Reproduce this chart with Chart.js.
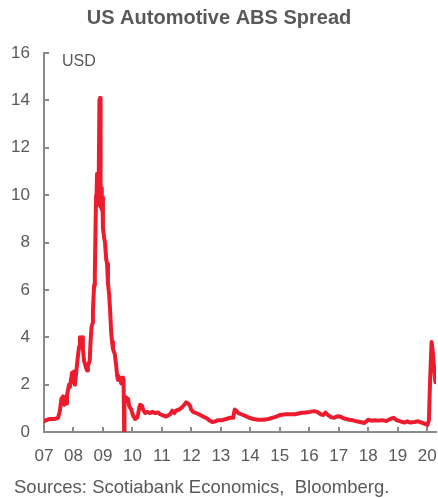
<!DOCTYPE html>
<html>
<head>
<meta charset="utf-8">
<script src="https://cdn.jsdelivr.net/npm/chart.js"></script>
<style>
  body { margin: 0; background: #fff; }
  #wrap { position: relative; width: 438px; height: 498px; }
</style>
</head>
<body>
<div id="wrap"><canvas id="abs"></canvas></div>
<script>
// decimal year of each observation
const dates = [
  2007.00, 2007.07, 2007.20, 2007.37, 2007.48, 2007.54, 2007.59, 2007.65, 2007.68, 2007.75,
  2007.78, 2007.85, 2007.88, 2007.95, 2007.99, 2008.02, 2008.05, 2008.10, 2008.15, 2008.19,
  2008.22, 2008.26, 2008.29, 2008.32, 2008.36, 2008.43, 2008.46, 2008.49, 2008.55, 2008.58,
  2008.61, 2008.65, 2008.66, 2008.70, 2008.72, 2008.73, 2008.76, 2008.77, 2008.78, 2008.80,
  2008.82, 2008.83, 2008.85, 2008.88, 2008.90, 2008.92, 2008.94, 2008.96, 2008.98, 2009.00,
  2009.04, 2009.07, 2009.11, 2009.14, 2009.17, 2009.21, 2009.24, 2009.28, 2009.31, 2009.34,
  2009.40, 2009.45, 2009.48, 2009.51, 2009.58, 2009.62, 2009.65, 2009.68, 2009.70, 2009.72,
  2009.73, 2009.79, 2009.82, 2009.85, 2009.89, 2009.96, 2010.02, 2010.09, 2010.16, 2010.19,
  2010.23, 2010.26, 2010.33, 2010.36, 2010.43, 2010.50, 2010.60, 2010.67, 2010.77, 2010.87,
  2010.94, 2011.04, 2011.14, 2011.21, 2011.28, 2011.35, 2011.42, 2011.48, 2011.59, 2011.69,
  2011.76, 2011.82, 2011.89, 2011.96, 2011.99, 2012.06, 2012.16, 2012.30, 2012.40, 2012.50,
  2012.60, 2012.71, 2012.81, 2012.91, 2013.05, 2013.18, 2013.32, 2013.42, 2013.47, 2013.52,
  2013.59, 2013.69, 2013.83, 2013.96, 2014.10, 2014.27, 2014.44, 2014.61, 2014.74, 2014.88,
  2015.02, 2015.19, 2015.36, 2015.53, 2015.70, 2015.87, 2016.04, 2016.17, 2016.27, 2016.38,
  2016.48, 2016.55, 2016.65, 2016.75, 2016.85, 2016.95, 2017.05, 2017.16, 2017.26, 2017.36,
  2017.46, 2017.60, 2017.73, 2017.87, 2018.01, 2018.11, 2018.21, 2018.35, 2018.48, 2018.62,
  2018.75, 2018.86, 2018.96, 2019.09, 2019.23, 2019.33, 2019.43, 2019.57, 2019.70, 2019.81,
  2019.91, 2020.01, 2020.06, 2020.09, 2020.13, 2020.15, 2020.18, 2020.21, 2020.25, 2020.28
];
// spread, USD
const spread = [
  0.45, 0.50, 0.55, 0.55, 0.60, 0.90, 1.40, 1.50, 1.15, 1.20,
  1.55, 2.00, 1.90, 2.50, 2.10, 2.55, 2.00, 2.60, 3.20, 3.60,
  4.00, 3.80, 4.00, 3.50, 3.00, 2.70, 2.60, 2.80, 3.00, 3.80,
  4.40, 4.60, 5.10, 6.20, 6.50, 6.70, 9.50, 10.00, 9.80, 10.90,
  10.20, 10.70, 9.60, 14.00, 14.10, 9.50, 10.30, 9.40, 9.90, 8.60,
  8.20, 8.00, 7.30, 7.10, 6.30, 5.80, 5.20, 4.20, 3.80, 3.50,
  3.30, 2.80, 2.40, 2.20, 2.30, 2.05, 2.20, 2.30, 2.20, 0.00,
  1.50, 1.45, 1.30, 1.40, 1.10, 0.95, 0.70, 0.55, 0.60, 0.75,
  1.00, 1.15, 1.10, 0.95, 0.80, 0.85, 0.80, 0.85, 0.80, 0.82,
  0.75, 0.70, 0.65, 0.70, 0.75, 0.90, 0.80, 0.90, 0.95, 1.05,
  1.15, 1.25, 1.20, 1.10, 0.95, 0.85, 0.80, 0.72, 0.65, 0.60,
  0.50, 0.42, 0.45, 0.50, 0.50, 0.55, 0.60, 0.60, 0.95, 0.90,
  0.80, 0.75, 0.68, 0.60, 0.55, 0.52, 0.52, 0.55, 0.60, 0.65,
  0.72, 0.75, 0.75, 0.75, 0.80, 0.82, 0.85, 0.88, 0.85, 0.75,
  0.72, 0.82, 0.70, 0.62, 0.60, 0.66, 0.65, 0.58, 0.55, 0.52,
  0.50, 0.45, 0.42, 0.38, 0.52, 0.48, 0.50, 0.48, 0.50, 0.46,
  0.55, 0.60, 0.50, 0.45, 0.40, 0.45, 0.40, 0.42, 0.45, 0.40,
  0.35, 0.30, 0.50, 1.80, 3.20, 3.80, 3.50, 3.10, 2.50, 2.10
];
const years = [2007, 2008, 2009, 2010, 2011, 2012, 2013, 2014, 2015, 2016, 2017, 2018, 2019, 2020];

const grey = '#595959';
const axisGrey = '#8a8a8a';
const fam = '"Liberation Sans", Arial, sans-serif';

// titles, unit label and the short inward tick marks
const decor = {
  id: 'decor',
  afterDraw(chart) {
    const c = chart.ctx, a = chart.chartArea;
    const sx = chart.scales.x, sy = chart.scales.y;
    c.save();
    c.strokeStyle = axisGrey;
    c.lineWidth = 2;
    c.beginPath();
    sx.ticks.forEach(t => {
      const px = Math.round(sx.getPixelForValue(t.value));
      c.moveTo(px, a.bottom); c.lineTo(px, a.bottom - 5);
    });
    sy.ticks.forEach(t => {
      const py = Math.round(sy.getPixelForValue(t.value));
      c.moveTo(a.left, py); c.lineTo(a.left + 5, py);
    });
    c.stroke();

    c.fillStyle = grey;
    c.textBaseline = 'middle';
    c.textAlign = 'center';
    c.font = 'bold 20px ' + fam;
    c.fillText('US Automotive ABS Spread', chart.width / 2, 18);
    c.textAlign = 'left';
    c.font = '16px ' + fam;
    c.fillText('USD', a.left + 18, a.top + 9);
    c.font = '18.5px ' + fam;
    c.fillText('Sources: Scotiabank Economics,  Bloomberg.', 14, 488);
    c.restore();
  }
};

new Chart(document.getElementById('abs'), {
  type: 'line',
  data: {
    datasets: [{
      data: dates.map((d, i) => ({ x: d, y: spread[i] })),
      borderColor: '#ec1c2e',
      borderWidth: 4,
      pointRadius: 0,
      tension: 0,
      borderJoinStyle: 'round',
      borderCapStyle: 'round'
    }]
  },
  options: {
    responsive: true,
    maintainAspectRatio: false,
    animation: false,
    layout: { padding: { top: 53, right: 2, bottom: 32, left: 0 } },
    plugins: { legend: { display: false }, tooltip: { enabled: false } },
    scales: {
      x: {
        type: 'linear',
        min: 2007,
        max: 2020.3,
        afterBuildTicks: s => { s.ticks = years.map(v => ({ value: v })); },
        afterFit: s => { s.height = 34; s.paddingLeft = 0; s.paddingRight = 0; },
        grid: { display: false, drawTicks: false },
        border: { color: axisGrey, width: 2 },
        ticks: {
          padding: 14,
          color: grey,
          font: { family: fam, size: 17 },
          maxRotation: 0,
          autoSkip: false,
          callback: v => String(v % 100).padStart(2, '0')
        }
      },
      y: {
        min: 0,
        max: 16,
        afterFit: s => { s.width = 44; s.paddingTop = 0; s.paddingBottom = 0; },
        grid: { display: false, drawTicks: false },
        border: { color: axisGrey, width: 2 },
        ticks: {
          stepSize: 2,
          padding: 14,
          color: grey,
          font: { family: fam, size: 17 }
        }
      }
    }
  },
  plugins: [decor]
});
</script>
</body>
</html>
